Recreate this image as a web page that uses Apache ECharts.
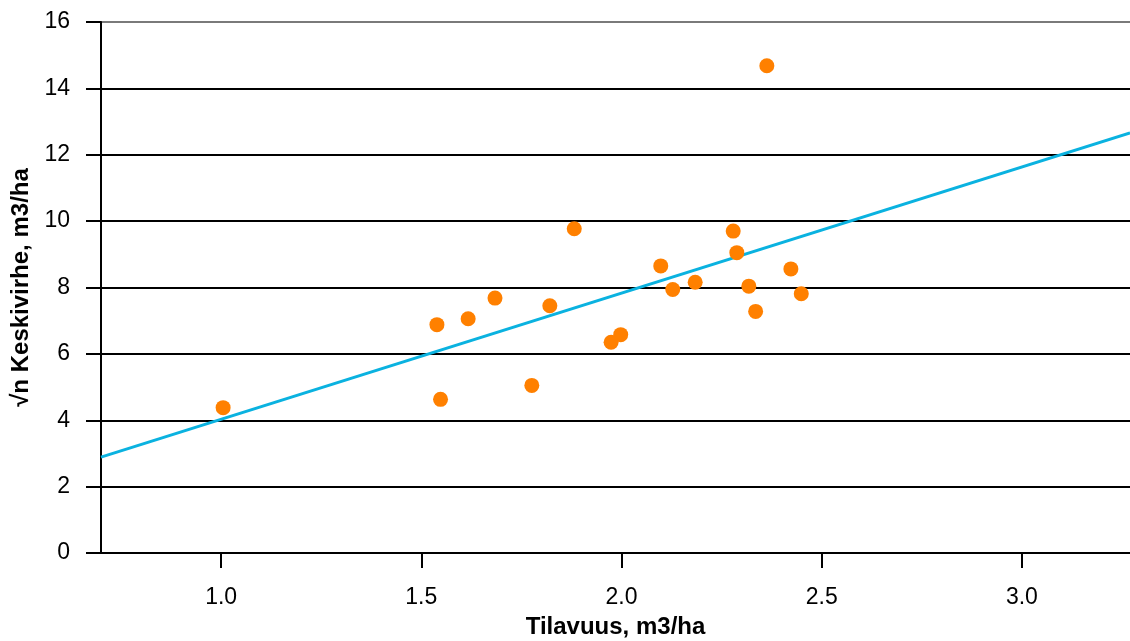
<!DOCTYPE html>
<html>
<head>
<meta charset="utf-8">
<title>Keskivirhe vs Tilavuus</title>
<style>
  html, body { margin: 0; padding: 0; background: #fff; }
  #page { width: 1130px; height: 641px; }
</style>
</head>
<body>
<div id="page"></div>
<script src="https://cdn.jsdelivr.net/npm/echarts@6/dist/echarts.min.js"></script>
<script>
    // havaintopisteet
    var tilavuus = [1.005, 1.539, 1.548, 1.617, 1.684, 1.776, 1.821, 1.882, 1.974, 1.998,
        2.098, 2.128, 2.184, 2.279, 2.288, 2.318, 2.335, 2.363, 2.423, 2.449];
    var keskivirhe = [4.38, 6.88, 4.63, 7.06, 7.68, 5.05, 7.45, 9.77, 6.35, 6.58,
        8.65, 7.94, 8.16, 9.70, 9.05, 8.04, 7.28, 14.68, 8.56, 7.81];

    // sovitettu suora, päätepisteet
    var fitX = [0.7, 3.27];
    var fitY = [2.89, 12.66];

    var xTicks = [1.0, 1.5, 2.0, 2.5, 3.0];
    var yTicks = [0, 2, 4, 6, 8, 10, 12, 14, 16];

    var font = 'Liberation Sans, Arial, sans-serif';

    var chart = echarts.init(document.getElementById('page'));

    var points = tilavuus.map(function (x, i) { return [x, keskivirhe[i]]; });
    var line = fitX.map(function (x, i) { return [x, fitY[i]]; });

    // ruudukon viivat: ylin harmaa, muut mustat
    var gridColors = yTicks.map(function (v, i) {
        return i === yTicks.length - 1 ? '#7a7a7a' : '#000';
    });

    var option = {
        animation: false,
        backgroundColor: '#fff',
        grid: { left: 101, right: 0, top: 22, bottom: 88, containLabel: false, outerBoundsMode: 'none' },
        xAxis: {
            type: 'value',
            min: 0.7,
            max: 3.27,
            name: 'Tilavuus, m3/ha',
            nameLocation: 'middle',
            nameGap: 62,
            nameTextStyle: { fontFamily: font, fontSize: 24, fontWeight: 'bold', color: '#000' },
            axisLine: { show: true, onZero: false, lineStyle: { color: '#000', width: 2 } },
            axisTick: {
                show: true, length: 15, customValues: xTicks,
                lineStyle: { color: '#000', width: 2 }
            },
            axisLabel: {
                customValues: xTicks,
                margin: 33,
                fontFamily: font, fontSize: 23, color: '#000',
                formatter: function (v) { return v.toFixed(1); }
            },
            splitLine: { show: false }
        },
        yAxis: {
            type: 'value',
            min: 0,
            max: 16,
            interval: 2,
            name: '√n Keskivirhe, m3/ha',
            nameLocation: 'middle',
            nameGap: 67,
            nameTextStyle: { fontFamily: font, fontSize: 24, fontWeight: 'bold', color: '#000' },
            axisLine: { show: true, lineStyle: { color: '#000', width: 2 } },
            axisTick: { show: true, length: 15, lineStyle: { color: '#000', width: 2 } },
            axisLabel: { margin: 31, fontFamily: font, fontSize: 23, color: '#000' },
            splitLine: { show: true, lineStyle: { color: gridColors, width: 2 } }
        },
        series: [
            {
                type: 'line',
                data: line,
                showSymbol: false,
                silent: true,
                lineStyle: { color: '#0AB2E0', width: 3 },
                z: 2
            },
            {
                type: 'scatter',
                data: points,
                symbolSize: 15,
                itemStyle: { color: '#FF8000', opacity: 1 },
                z: 3
            }
        ]
    };
    chart.setOption(option);
</script>
</body>
</html>
